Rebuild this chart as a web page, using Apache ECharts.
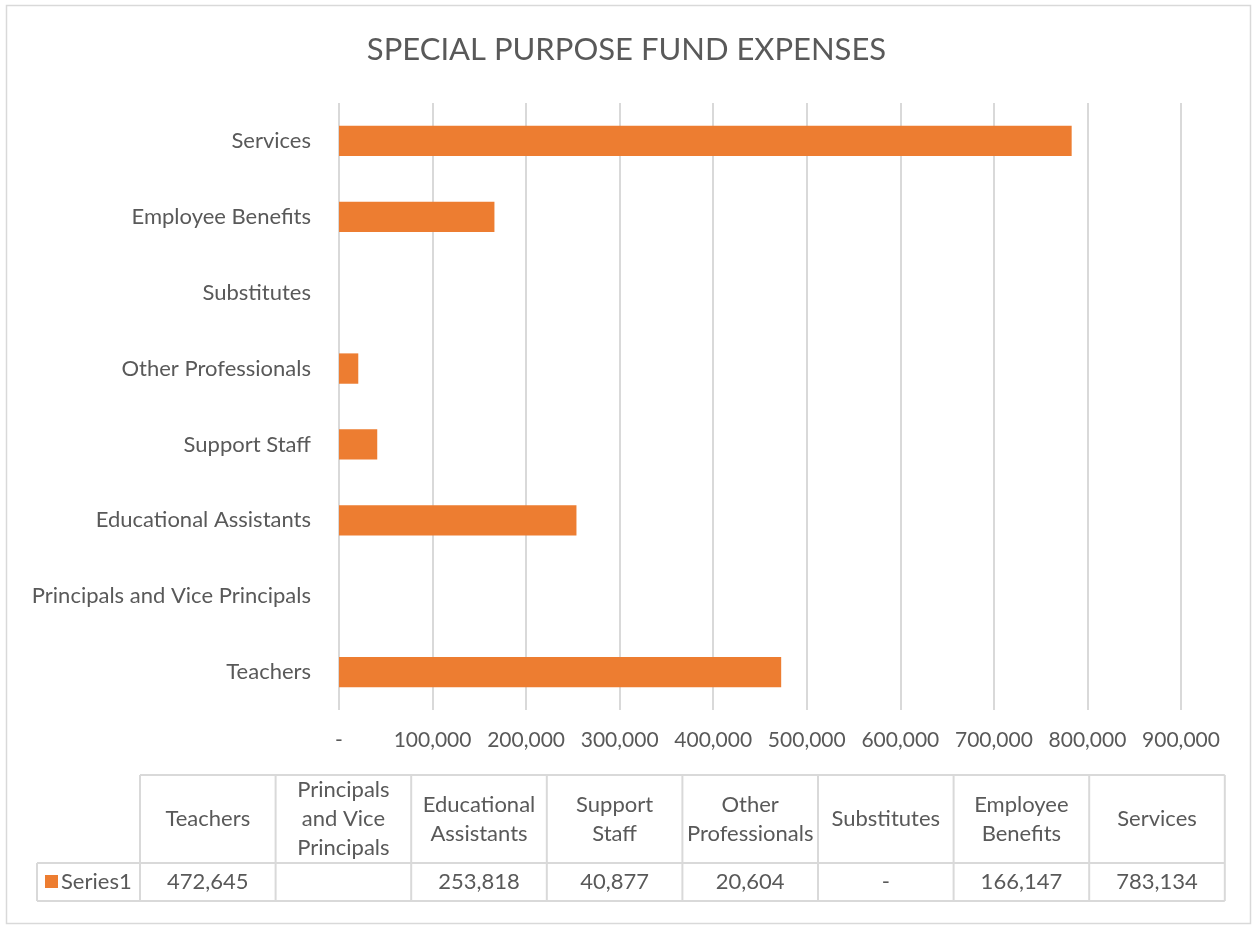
<!DOCTYPE html>
<html>
<head>
<meta charset="utf-8">
<script src="https://cdn.jsdelivr.net/npm/echarts@6/dist/echarts.min.js"></script>
<style>
    html, body { margin: 0; padding: 0; background: #fff; }
    #chart { width: 1253px; height: 929px; }
</style>
</head>
<body>
<div id="chart"></div>
<script>
// categories in data order (bottom to top on the chart, left to right in the table)
const categories = ['Teachers', 'Principals and Vice Principals', 'Educational Assistants', 'Support Staff',
    'Other Professionals', 'Substitutes', 'Employee Benefits', 'Services'];
const tableHeaders = ['Teachers', 'Principals\nand Vice\nPrincipals', 'Educational\nAssistants', 'Support\nStaff',
    'Other\nProfessionals', 'Substitutes', 'Employee\nBenefits', 'Services'];
const values = [472645, null, 253818, 40877, 20604, 0, 166147, 783134];
const seriesName = 'Series1';
const axisMax = 900000;
const axisStep = 100000;

const textColor = '#595959';
const lineColor = '#d9d9d9';
const barColor = '#ED7D31';
const font = 'Lato, "Open Sans", sans-serif';

function fmt(v) {
    if (v === null) return '';
    if (v === 0) return '-';
    return v.toLocaleString('en-US');
}

// data table under the chart
const tableLeft = 140, colW = 135.6, tableTop = 775, headH = 88, rowH = 38, keyLeft = 37;
const tableRight = tableLeft + colW * categories.length;
const graphics = [];
const lineStyle = {stroke: lineColor, lineWidth: 2};
// horizontal lines
graphics.push({type: 'line', shape: {x1: tableLeft, y1: tableTop, x2: tableRight, y2: tableTop}, style: lineStyle});
graphics.push({type: 'line', shape: {x1: keyLeft, y1: tableTop + headH, x2: tableRight, y2: tableTop + headH}, style: lineStyle});
graphics.push({type: 'line', shape: {x1: keyLeft, y1: tableTop + headH + rowH, x2: tableRight, y2: tableTop + headH + rowH}, style: lineStyle});
graphics.push({type: 'line', shape: {x1: keyLeft, y1: tableTop + headH, x2: keyLeft, y2: tableTop + headH + rowH}, style: lineStyle});
for (let i = 0; i <= categories.length; i++) {
    const x = tableLeft + colW * i;
    graphics.push({type: 'line', shape: {x1: x, y1: tableTop, x2: x, y2: tableTop + headH + rowH}, style: lineStyle});
}
tableHeaders.forEach((h, i) => {
    graphics.push({
        type: 'text',
        x: tableLeft + colW * (i + 0.5), y: tableTop + headH / 2,
        style: {text: h, fill: textColor, font: '22px ' + font, align: 'center', verticalAlign: 'middle', lineHeight: 29}
    });
    graphics.push({
        type: 'text',
        x: tableLeft + colW * (i + 0.5), y: tableTop + headH + rowH / 2,
        style: {text: fmt(values[i]), fill: textColor, font: '22px ' + font, align: 'center', verticalAlign: 'middle'}
    });
});
graphics.push({type: 'rect', shape: {x: 45, y: 875, width: 13, height: 13}, style: {fill: barColor}});
graphics.push({
    type: 'text', x: 61, y: tableTop + headH + rowH / 2,
    style: {text: seriesName, fill: textColor, font: '22px ' + font, align: 'left', verticalAlign: 'middle'}
});
// outer chart border
graphics.push({type: 'rect', shape: {x: 6.5, y: 5.5, width: 1244, height: 918}, style: {fill: 'none', stroke: lineColor, lineWidth: 1.5}, z: -1});

const chart = echarts.init(document.getElementById('chart'));
chart.setOption({
    backgroundColor: '#fff',
    animation: false,
    title: {
        text: 'SPECIAL PURPOSE FUND EXPENSES',
        left: 'center',
        top: 29,
        textStyle: {color: textColor, fontSize: 31, fontWeight: 'normal', fontFamily: font}
    },
    grid: {left: 339, right: 72, top: 103, bottom: 219, containLabel: false},
    xAxis: {
        type: 'value',
        min: 0,
        max: axisMax,
        interval: axisStep,
        axisLine: {show: false},
        axisTick: {show: false},
        splitLine: {lineStyle: {color: lineColor, width: 2}},
        axisLabel: {
            color: textColor, fontSize: 21, fontFamily: font, margin: 20,
            formatter: v => v === 0 ? '-' : v.toLocaleString('en-US')
        }
    },
    yAxis: {
        type: 'category',
        data: categories,
        axisLine: {show: false},
        axisTick: {show: false},
        axisLabel: {color: textColor, fontSize: 22, fontFamily: font, margin: 28}
    },
    series: [{
        name: seriesName,
        type: 'bar',
        data: values,
        barWidth: '40%',
        itemStyle: {color: barColor}
    }],
    graphic: graphics
});
</script>
</body>
</html>
